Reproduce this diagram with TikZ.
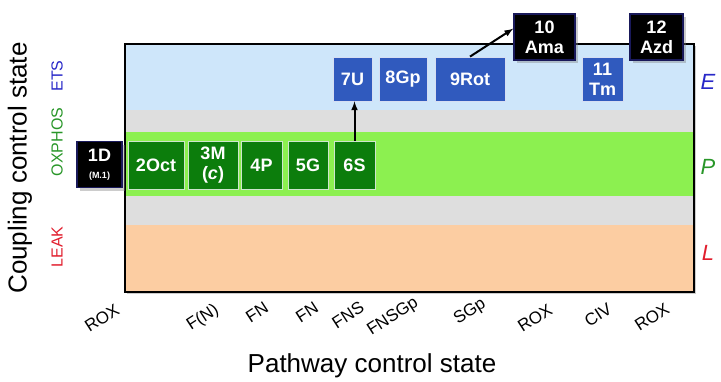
\documentclass[tikz,border=0pt]{standalone}
\usepackage{fontspec}
\setmainfont{Liberation Sans}
\usetikzlibrary{shadows}

\definecolor{etsband}{RGB}{206,230,250}
\definecolor{dotband}{RGB}{222,222,222}
\definecolor{oxband}{RGB}{140,240,80}
\definecolor{leakband}{RGB}{252,205,162}
\definecolor{stategreen}{RGB}{12,125,12}
\definecolor{stateblue}{RGB}{48,90,190}
\definecolor{navyedge}{RGB}{25,25,90}
\definecolor{leakred}{RGB}{225,30,45}
\definecolor{oxgreen}{RGB}{40,150,40}
\definecolor{etsblue}{RGB}{40,40,200}

\tikzset{
  statebox/.style={text=white, inner sep=0pt, align=center,
    font=\fontsize{18}{20}\selectfont\bfseries},
  greenstate/.style={statebox, fill=stategreen, draw=white!80!stategreen, line width=0.8pt,
    minimum height=48pt},
  bluestate/.style={statebox, fill=stateblue, draw=white!80!stateblue, line width=0.8pt,
    minimum height=44pt},
  blackstate/.style={statebox, fill=black, draw=navyedge, line width=1.5pt,
    minimum height=46pt, drop shadow={shadow xshift=3pt, shadow yshift=-3pt, opacity=0.4}},
  pathlabel/.style={rotate=33, inner sep=1pt, font=\fontsize{17}{19}\selectfont},
  couplabel/.style={rotate=90, font=\fontsize{16}{18}\selectfont},
  bandlabel/.style={font=\fontsize{22}{24}\selectfont\itshape},
  axistitle/.style={font=\fontsize{26}{30}\selectfont}
}

\begin{document}
\begin{tikzpicture}[x=1pt, y=-1pt]
    \useasboundingbox (0,0) rectangle (721,381);

    \fill[white, drop shadow={shadow xshift=2pt, shadow yshift=-2pt, opacity=0.4}] (125,44) rectangle (694,292);
    \fill[etsband] (125,44) rectangle (694,110);
    \fill[dotband] (125,110) rectangle (694,132);
    \fill[oxband] (125,132) rectangle (694,196);
    \fill[dotband] (125,196) rectangle (694,225);
    \fill[leakband] (125,225) rectangle (694,292);
    \draw[line width=1.5pt] (125,44) rectangle (694,292);

    \node[blackstate, minimum width=45pt] (d1) at (99.5,164.5) {1D\\[-3pt]{\fontsize{9}{10}\selectfont (M.1)}};
    \node[greenstate, minimum width=56pt] (oct) at (156,165) {2Oct};
    \node[greenstate, minimum width=50pt] (m3) at (213,165) {3M\\(\textit{c})};
    \node[greenstate, minimum width=41pt] (p4) at (261.5,165) {4P};
    \node[greenstate, minimum width=40pt] (g5) at (308,165) {5G};
    \node[greenstate, minimum width=41pt] (s6) at (354.5,165) {6S};

    \node[bluestate, minimum width=39pt] (u7) at (352.5,79) {7U};
    \node[bluestate, minimum width=48pt] (gp8) at (403,79) {8Gp};
    \node[bluestate, minimum width=70pt] (rot9) at (470,79) {9Rot};
    \node[bluestate, minimum width=41pt] (tm11) at (602.5,79.5) {11\\Tm};
    \node[blackstate, minimum width=61pt] (ama10) at (544.5,37) {10\\Ama};
    \node[blackstate, minimum width=53pt] (azd12) at (656.5,37) {12\\Azd};

    \draw[->, >=latex, line width=2pt] (s6.north) -- (s6.north |- u7.south);
    \draw[->, >=latex, line width=2pt] (rot9.north) -- (ama10.165);

    \node[bandlabel, etsblue] (elabel) at (708,82) {E};
    \node[bandlabel, oxgreen] (plabel) at (708,167) {P};
    \node[bandlabel, leakred] (llabel) at (708,253) {L};

    \node[couplabel, etsblue] (ets) at (57,76) {ETS};
    \node[couplabel, oxgreen] (oxphos) at (57,142) {OXPHOS};
    \node[couplabel, leakred] (leak) at (57,247) {LEAK};
    \node[axistitle, rotate=90] (ytitle) at (20,168) {Coupling control state};

    \node[pathlabel] (rox1) at (102,318) {ROX};
    \node[pathlabel] (fn0) at (203,318) {F(N)};
    \node[pathlabel] (fn1) at (257,312) {FN};
    \node[pathlabel] (fn2) at (307,312) {FN};
    \node[pathlabel] (fns) at (348,315) {FNS};
    \node[pathlabel] (fnsgp) at (393,317) {FNSGp};
    \node[pathlabel] (sgp) at (470,312) {SGp};
    \node[pathlabel] (rox2) at (535,318) {ROX};
    \node[pathlabel] (civ) at (598,315) {CIV};
    \node[pathlabel] (rox3) at (652,317) {ROX};
    \node[axistitle] (xtitle) at (372,366) {Pathway control state};

\end{tikzpicture}
\end{document}
